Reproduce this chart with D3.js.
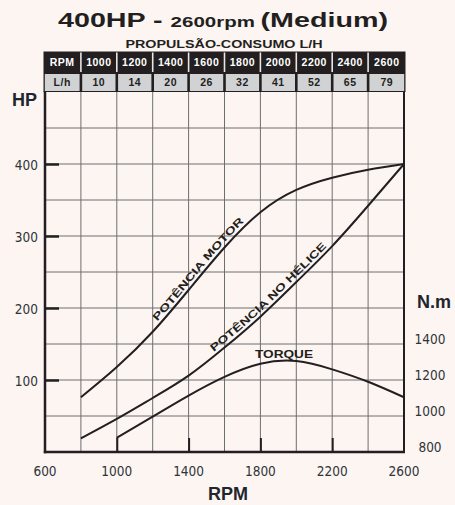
<!DOCTYPE html>
<html>
<head>
<meta charset="utf-8">
<script src="https://cdn.jsdelivr.net/npm/d3@7"></script>
<style>
  html, body { margin: 0; padding: 0; background: #fdf5f2; }
  svg { display: block; }
</style>
</head>
<body>
<svg id="chart" width="455" height="505"></svg>
<script>
// tabela propulsão-consumo
const tableRpm = [1000, 1200, 1400, 1600, 1800, 2000, 2200, 2400, 2600];
const tableLh = [10, 14, 20, 26, 32, 41, 52, 65, 79];

// curvas
const rpm = [800, 1000, 1200, 1400, 1600, 1800, 2000, 2200, 2400, 2600];
const motorHP = [76, 118, 167, 225, 284, 333, 364, 381, 392, 400];
const heliceHP = [19, 46, 75, 106, 145, 188, 236, 286, 342, 400];
const torqueRpm = [1000, 1200, 1400, 1600, 1800, 2000, 2200, 2400, 2600];
const torqueNm = [879, 996, 1113, 1217, 1290, 1305, 1259, 1190, 1104];

// eixos
const xTicks = [600, 1000, 1400, 1800, 2200, 2600];
const hpTicks = [100, 200, 300, 400];
const nmTicks = [800, 1000, 1200, 1400];

const DARK = '#231f20';
const AXIS_TEXT = '#2e3338';
const BOLD = '"Liberation Sans", Arial, sans-serif';
const TICKFONT = '"DejaVu Sans Condensed", "DejaVu Sans", sans-serif';

const svg = d3.select('#chart');
const pLeft = 45, pRight = 404, pTop = 92, pBottom = 452;

const x = d3.scaleLinear().domain([600, 2600]).range([pLeft, pRight]);
const y = d3.scaleLinear().domain([0, 500]).range([pBottom, pTop]);
const yT = d3.scaleLinear().domain([800, 2800]).range([pBottom, pTop]);

//título
const title = svg.append('text')
  .attr('x', 223).attr('y', 27)
  .attr('text-anchor', 'middle')
  .attr('font-family', BOLD).attr('font-weight', 'bold')
  .attr('fill', DARK)
  .attr('textLength', 330).attr('lengthAdjust', 'spacingAndGlyphs');
title.append('tspan').attr('font-size', 21).text('400HP - ');
title.append('tspan').attr('font-size', 15).text('2600rpm ');
title.append('tspan').attr('font-size', 21).text('(Medium)');

svg.append('text')
  .attr('x', 224).attr('y', 48)
  .attr('text-anchor', 'middle')
  .attr('font-family', BOLD).attr('font-weight', 'bold').attr('font-size', 11)
  .attr('fill', DARK)
  .attr('textLength', 197).attr('lengthAdjust', 'spacingAndGlyphs')
  .text('PROPULSÃO-CONSUMO L/H');

//tabela
const tY0 = 51.5, tY1 = 73, tY2 = 92;
const colEdges = [43.5].concat(d3.range(800, 2601, 200).map(x));
colEdges[colEdges.length - 1] = 405.5;

svg.append('rect')
  .attr('x', colEdges[0]).attr('y', tY0)
  .attr('width', colEdges[colEdges.length - 1] - colEdges[0]).attr('height', tY2 - tY0)
  .attr('fill', DARK);

// separadores da primeira linha
svg.selectAll('line.sep')
  .data(colEdges.slice(1, -1))
  .enter().append('line')
  .attr('class', 'sep')
  .attr('x1', d => d).attr('x2', d => d)
  .attr('y1', tY0 + 1).attr('y2', tY1 - 1)
  .attr('stroke', '#e6e6e6').attr('stroke-width', 1.6);

// células cinza
svg.selectAll('rect.cell')
  .data(d3.range(colEdges.length - 1))
  .enter().append('rect')
  .attr('class', 'cell')
  .attr('x', i => colEdges[i] + 1.3)
  .attr('y', tY1 + 1)
  .attr('width', i => colEdges[i + 1] - colEdges[i] - 2.6)
  .attr('height', tY2 - tY1 - 2)
  .attr('fill', '#d1d2d4');

const row1 = ['RPM'].concat(tableRpm);
const row2 = ['L/h'].concat(tableLh);

svg.selectAll('text.r1')
  .data(row1)
  .enter().append('text')
  .attr('class', 'r1')
  .attr('x', (d, i) => (colEdges[i] + colEdges[i + 1]) / 2)
  .attr('y', 66)
  .attr('text-anchor', 'middle')
  .attr('font-family', BOLD).attr('font-weight', 'bold').attr('font-size', 10.5)
  .attr('letter-spacing', 0.5)
  .attr('fill', '#fff')
  .text(d => d);

svg.selectAll('text.r2')
  .data(row2)
  .enter().append('text')
  .attr('class', 'r2')
  .attr('x', (d, i) => (colEdges[i] + colEdges[i + 1]) / 2)
  .attr('y', 86)
  .attr('text-anchor', 'middle')
  .attr('font-family', BOLD).attr('font-weight', 'bold').attr('font-size', 10.5)
  .attr('letter-spacing', 0.5)
  .attr('fill', DARK)
  .text(d => d);

//grade
const grid = svg.append('g').attr('class', 'grid');
grid.selectAll('line.gx')
  .data(d3.range(800, 2600, 200))
  .enter().append('line')
  .attr('x1', d => x(d)).attr('x2', d => x(d))
  .attr('y1', pTop).attr('y2', pBottom)
  .attr('stroke', '#6d6e71').attr('stroke-width', 1);
grid.selectAll('line.gy')
  .data(d3.range(50, 500, 50))
  .enter().append('line')
  .attr('x1', pLeft).attr('x2', pRight)
  .attr('y1', d => y(d)).attr('y2', d => y(d))
  .attr('stroke', '#6d6e71').attr('stroke-width', 1);

//moldura
svg.append('line').attr('x1', pLeft).attr('x2', pLeft).attr('y1', pTop - 1).attr('y2', pBottom + 1.2)
  .attr('stroke', DARK).attr('stroke-width', 2.5);
svg.append('line').attr('x1', pLeft - 1.2).attr('x2', pRight + 1).attr('y1', pBottom).attr('y2', pBottom)
  .attr('stroke', DARK).attr('stroke-width', 2.5);
svg.append('line').attr('x1', pRight).attr('x2', pRight).attr('y1', pTop - 1).attr('y2', pBottom)
  .attr('stroke', DARK).attr('stroke-width', 2);

//eixo HP
const axisHP = svg.append('g')
  .attr('transform', `translate(${pLeft},0)`)
  .call(d3.axisRight(y).tickValues(hpTicks).tickSize(14).tickFormat(''));
axisHP.select('.domain').remove();
axisHP.selectAll('.tick line').attr('stroke', DARK).attr('stroke-width', 2.5);

svg.selectAll('text.hp')
  .data(hpTicks)
  .enter().append('text')
  .attr('x', 38).attr('y', d => y(d) + 1.5)
  .attr('dy', '0.35em')
  .attr('text-anchor', 'end')
  .attr('font-family', TICKFONT).attr('font-size', 13.5)
  .attr('fill', AXIS_TEXT)
  .text(d => d);

//eixo RPM
const axisX = svg.append('g')
  .attr('transform', `translate(0,${pBottom})`)
  .call(d3.axisTop(x).tickValues([1000, 1400, 1800, 2200]).tickSize(14).tickFormat(''));
axisX.select('.domain').remove();
axisX.selectAll('.tick line').attr('stroke', DARK).attr('stroke-width', 2);

svg.selectAll('text.xt')
  .data(xTicks)
  .enter().append('text')
  .attr('x', d => x(d)).attr('y', 471)
  .attr('dy', '0.35em')
  .attr('text-anchor', 'middle')
  .attr('font-family', TICKFONT).attr('font-size', 13.5)
  .attr('fill', AXIS_TEXT)
  .text(d => d);

//eixo torque
svg.selectAll('text.nm')
  .data(nmTicks)
  .enter().append('text')
  .attr('x', 430).attr('y', d => yT(d) - 5)
  .attr('dy', '0.35em')
  .attr('text-anchor', 'middle')
  .attr('font-family', TICKFONT).attr('font-size', 13.5)
  .attr('fill', AXIS_TEXT)
  .text(d => d);

//títulos dos eixos
svg.append('text').attr('x', 12).attr('y', 106)
  .attr('font-family', BOLD).attr('font-weight', 'bold').attr('font-size', 18)
  .attr('fill', '#1f262d').text('HP');
svg.append('text').attr('x', 417).attr('y', 308)
  .attr('font-family', BOLD).attr('font-weight', 'bold').attr('font-size', 18)
  .attr('fill', '#1f262d').text('N.m');
svg.append('text').attr('x', 228).attr('y', 500)
  .attr('text-anchor', 'middle')
  .attr('font-family', BOLD).attr('font-weight', 'bold').attr('font-size', 18)
  .attr('fill', '#1f262d').text('RPM');

//curvas
const line = d3.line().curve(d3.curveNatural);

const motorPath = svg.append('path')
  .attr('id', 'motor')
  .attr('d', line(rpm.map((r, i) => [x(r), y(motorHP[i])])))
  .attr('fill', 'none').attr('stroke', DARK).attr('stroke-width', 2);

const helicePath = svg.append('path')
  .attr('id', 'helice')
  .attr('d', line(rpm.map((r, i) => [x(r), y(heliceHP[i])])))
  .attr('fill', 'none').attr('stroke', DARK).attr('stroke-width', 2);

svg.append('path')
  .attr('d', line(torqueRpm.map((r, i) => [x(r), yT(torqueNm[i])])))
  .attr('fill', 'none').attr('stroke', DARK).attr('stroke-width', 2);

// início do rótulo em x
function lengthAtX(node, px) {
  const total = node.getTotalLength();
  let lo = 0, hi = total;
  for (let k = 0; k < 40; k++) {
    const mid = (lo + hi) / 2;
    if (node.getPointAtLength(mid).x < px) lo = mid; else hi = mid;
  }
  return lo;
}

function curveLabel(pathSel, id, startX, len, label) {
  svg.append('text')
    .attr('font-family', BOLD).attr('font-weight', 'bold').attr('font-size', 10.5)
    .attr('fill', DARK)
    .attr('dy', -3.5)
    .append('textPath')
    .attr('href', '#' + id)
    .attr('startOffset', lengthAtX(pathSel.node(), startX))
    .attr('textLength', len).attr('lengthAdjust', 'spacingAndGlyphs')
    .text(label);
}

curveLabel(motorPath, 'motor', 160, 132, 'POTÊNCIA MOTOR');
curveLabel(helicePath, 'helice', 216, 155, 'POTÊNCIA NO HÉLICE');

svg.append('text')
  .attr('x', 284).attr('y', 358)
  .attr('text-anchor', 'middle')
  .attr('font-family', BOLD).attr('font-weight', 'bold').attr('font-size', 10.5)
  .attr('fill', DARK)
  .attr('textLength', 58).attr('lengthAdjust', 'spacingAndGlyphs')
  .text('TORQUE');
</script>
</body>
</html>
